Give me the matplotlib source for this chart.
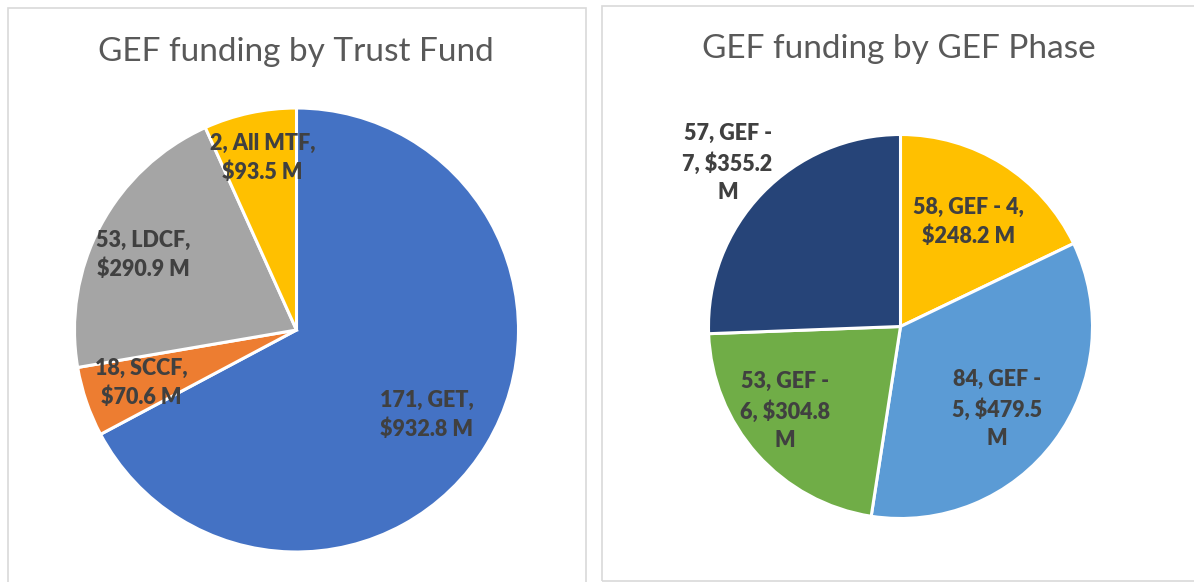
import numpy as np
import matplotlib
matplotlib.use("Agg")
import matplotlib.pyplot as plt
from matplotlib.patches import Rectangle

# ---- data ----
trust_names = ["GET", "SCCF", "LDCF", "All MTF"]
trust_counts = [171, 18, 53, 2]
trust_amounts = [932.8, 70.6, 290.9, 93.5]
trust_colors = ["#4472C4", "#ED7D31", "#A5A5A5", "#FFC000"]

phase_names = ["GEF - 4", "GEF - 5", "GEF - 6", "GEF - 7"]
phase_counts = [58, 84, 53, 57]
phase_amounts = [248.2, 479.5, 304.8, 355.2]
phase_colors = ["#FFC000", "#5B9BD5", "#70AD47", "#264478"]

trust_labels = ["171, GET,\n$932.8 M", "18, SCCF,\n$70.6 M", "53, LDCF,\n$290.9 M", "2, All MTF,\n$93.5 M"]
phase_labels = ["58, GEF - 4,\n$248.2 M", "84, GEF -\n5, $479.5\nM", "53, GEF -\n6, $304.8\nM", "57, GEF -\n7, $355.2\nM"]

W, H = 1194, 582
plt.rcParams['font.family'] = ['Lato', 'DejaVu Sans']
fig = plt.figure(figsize=(W / 100, H / 100), dpi=100)
fig.patch.set_facecolor("white")

def px_box(x0, y0, w, h):
    return [x0 / W, 1 - (y0 + h) / H, w / W, h / H]

# panel borders
for (x0, y0, x1, y1) in [(7.5, 7.5, 585.5, 590), (601.5, 5.5, 1200, 580.5)]:
    fig.patches.append(Rectangle((x0 / W, 1 - y1 / H), (x1 - x0) / W, (y1 - y0) / H,
                                 transform=fig.transFigure, fill=False,
                                 edgecolor="#D9D9D9", linewidth=1.2))

def draw_pie(cx, cy, r, values, colors, labels, dists, angle_offsets):
    ax = fig.add_axes(px_box(cx - r, cy - r, 2 * r, 2 * r))
    wedges, _ = ax.pie(values, colors=colors, startangle=90, counterclock=False,
                       wedgeprops=dict(edgecolor="white", linewidth=2.2), radius=1.0)
    for w, lab, d, off in zip(wedges, labels, dists, angle_offsets):
        th = np.deg2rad((w.theta1 + w.theta2) / 2 + off)
        ax.text(d * np.cos(th), d * np.sin(th), lab, ha="center", va="center",
                fontsize=15.5, fontweight="heavy", color="#404040", linespacing=1.45)
    ax.set_xlim(-1, 1)
    ax.set_ylim(-1, 1)
    ax.set_aspect("equal")
    ax.axis("off")
    return ax

draw_pie(296.5, 330, 222, trust_amounts, trust_colors, trust_labels,
         [0.70, 0.74, 0.77, 0.79], [-2, 0, 2, -1])
draw_pie(900.5, 326.5, 192, phase_amounts, phase_colors, phase_labels,
         [0.65, 0.66, 0.745, 1.24], [-1, -4, -5.5, 0.5])

fig.text(296 / W, 1 - 52 / H, "GEF funding by Trust Fund", ha="center", va="center",
         fontsize=24, color="#595959")
fig.text(899 / W, 1 - 49 / H, "GEF funding by GEF Phase", ha="center", va="center",
         fontsize=24, color="#595959")

fig.savefig("out.png", dpi=100, facecolor="white")
